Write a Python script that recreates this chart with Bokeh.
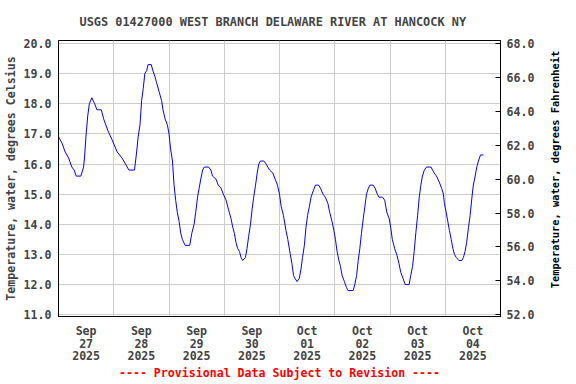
import math
from bokeh.plotting import figure
from bokeh.models import (LinearAxis, Range1d, FixedTicker, PrintfTickFormatter, Title, Grid, Label)
from bokeh.embed import file_html
from bokeh.resources import INLINE

# ---- data (hours since 2025-09-27 00:00, water temperature in deg C) ----
hours = [0, 1.5, 2.9, 4.4, 5.8, 6.8, 7.7, 9.7, 10.9, 11.3, 11.9, 12.7, 13.4, 14.5, 15.7, 16.7,
         18.6, 19.6, 21.5, 23.3, 25.5, 27.6, 29.1, 30.6, 33.0, 33.8, 34.6, 35.4, 36.1, 36.8, 37.5,
         38.3, 38.9, 40.3, 41.0, 41.9, 42.6, 43.7, 44.8, 45.4, 46.3, 47.3, 48.0, 48.7, 49.5, 50.2,
         50.9, 51.6, 52.4, 53.1, 53.8, 55.0, 57.0, 57.9, 58.9, 59.6, 60.4, 61.1, 61.8, 62.6, 63.3,
         65.2, 66.2, 66.9, 68.4, 69.4, 70.6, 71.6, 72.8, 73.8, 74.9, 75.7, 76.4, 77.1, 77.8, 78.6,
         79.3, 80.0, 81.2, 81.9, 82.6, 83.4, 84.1, 84.8, 85.6, 86.3, 87.0, 87.7, 89.2, 90.2, 91.7,
         93.1, 94.1, 95.1, 96.0, 96.7, 97.7, 98.8, 99.6, 100.7, 101.4, 102.1, 102.8, 103.6, 104.6,
         105.3, 106.0, 106.8, 107.5, 108.2, 109.0, 109.7, 110.6, 111.6, 113.0, 113.8, 114.9, 115.9,
         117.0, 117.8, 118.8, 119.6, 120.3, 121.0, 121.8, 122.5, 123.2, 124.2, 125.1, 125.8, 128.0,
         128.7, 129.5, 130.2, 130.9, 131.6, 132.4, 133.1, 133.8, 134.6, 135.3, 136.7, 137.5, 138.5,
         139.2, 140.7, 141.7, 142.6, 143.6, 144.3, 145.0, 146.0, 146.9, 147.9, 148.7, 149.7, 150.6,
         152.3, 153.0, 153.8, 154.5, 155.2, 156.0, 156.7, 157.4, 158.1, 158.9, 159.9, 161.8, 162.5,
         163.2, 164.2, 165.4, 166.4, 167.2, 167.6, 168.4, 169.1, 169.8, 170.6, 171.3, 172.0, 172.8,
         173.9, 175.2, 175.9, 176.6, 177.3, 178.1, 178.8, 179.6, 180.2, 181.0, 181.7, 182.4, 183.3,
         184.6]
temp_c = [16.9, 16.7, 16.4, 16.2, 15.9, 15.8, 15.6, 15.6, 15.9, 16.2, 16.9, 17.6, 18.0, 18.2, 18.0, 17.8,
          17.8, 17.5, 17.1, 16.8, 16.4, 16.2, 16.0, 15.8, 15.8, 16.3, 16.9, 17.3, 18.1, 18.5, 19.0,
          19.1, 19.3, 19.3, 19.1, 18.9, 18.7, 18.4, 18.1, 17.8, 17.5, 17.3, 17.0, 16.5, 16.1, 15.3,
          14.8, 14.4, 14.1, 13.7, 13.5, 13.3, 13.3, 13.7, 14.0, 14.4, 14.9, 15.2, 15.5, 15.8, 15.9,
          15.9, 15.8, 15.6, 15.5, 15.3, 15.2, 15.0, 14.8, 14.5, 14.2, 13.9, 13.7, 13.4, 13.2, 13.1,
          12.9, 12.8, 12.9, 13.2, 13.6, 14.0, 14.5, 14.9, 15.3, 15.7, 16.0, 16.1, 16.1, 16.0, 15.8,
          15.7, 15.5, 15.3, 15.0, 14.6, 14.3, 13.8, 13.5, 13.0, 12.7, 12.3, 12.2, 12.1, 12.2,
          12.5, 12.9, 13.3, 13.9, 14.3, 14.6, 14.9, 15.1, 15.3, 15.3, 15.2, 15.0, 14.9,
          14.7, 14.4, 14.1, 13.8, 13.5, 13.1, 12.8, 12.6, 12.3, 12.1, 11.9, 11.8, 11.8,
          12.0, 12.3, 12.8, 13.2, 13.7, 14.2, 14.6, 15.0, 15.2, 15.3, 15.3, 15.2, 15.0,
          14.9, 14.9, 14.8, 14.4, 14.2, 13.9, 13.5, 13.2, 13.0, 12.7, 12.4, 12.2, 12.0,
          12.0, 12.3, 12.6, 13.1, 13.7, 14.3, 14.9, 15.3, 15.6, 15.8, 15.9, 15.9, 15.8,
          15.7, 15.6, 15.4, 15.2, 15.0, 14.7, 14.4, 14.1, 13.8, 13.5, 13.2, 13.0, 12.9,
          12.8, 12.8, 12.9, 13.1, 13.4, 13.9, 14.3, 14.9, 15.3, 15.6, 15.9, 16.1, 16.3,
          16.3]

day_ticks = [12, 36, 60, 84, 108, 132, 156, 180]
month_labels = ["Sep", "Sep", "Sep", "Sep", "Oct", "Oct", "Oct", "Oct"]
daynum_labels = ["27", "28", "29", "30", "01", "02", "03", "04"]
year_labels = ["2025"] * 8
day_bounds = [24, 48, 72, 96, 120, 144, 168]
c_ticks = [11, 12, 13, 14, 15, 16, 17, 18, 19, 20]
f_ticks = [52, 54, 56, 58, 60, 62, 64, 66, 68]

title_text = "USGS 01427000 WEST BRANCH DELAWARE RIVER AT HANCOCK NY"
left_label = "Temperature, water, degrees Celsius"
right_label = "Temperature, water, degrees Fahrenheit"
note_text = "---- Provisional Data Subject to Revision ----"

FONT = "DejaVu Sans Mono"
FS = "11.6px"

FW, FH = 442, 276
c_lo, c_hi = 10.94, 20.10
def c_to_f(c):
    return 52 + (c - 11) * 16.0 / 9.0

p = figure(frame_width=FW, frame_height=FH, output_backend="svg", toolbar_location=None,
           x_range=Range1d(0, 192), y_range=Range1d(c_lo, c_hi),
           min_border_left=50, min_border_right=66, min_border_top=40, min_border_bottom=60,
           x_axis_type=None, y_axis_type=None)
p.extra_y_ranges = {"f": Range1d(c_to_f(c_lo), c_to_f(c_hi))}

p.line(hours, temp_c, line_color="#0000ff", line_width=1)

# title
p.title.text = title_text
p.title.text_font = FONT
p.title.text_font_size = "11.9px"
p.title.text_font_style = "bold"
p.title.align = "left"
p.title.offset = 21
p.title.standoff = 23

def style_text_axis(ax, standoff):
    ax.major_tick_line_color = None
    ax.minor_tick_line_color = None
    ax.major_tick_in = 0
    ax.major_tick_out = 0
    ax.major_label_text_font = FONT
    ax.major_label_text_font_size = FS
    ax.major_label_text_font_style = "bold"
    ax.major_label_standoff = standoff

# bottom axes: three stacked rows of labels
for labels, so, line in ((month_labels, 7, "black"), (daynum_labels, -2, None), (year_labels, 0, None)):
    xa = LinearAxis(ticker=FixedTicker(ticks=day_ticks),
                    major_label_overrides={t: l for t, l in zip(day_ticks, labels)})
    style_text_axis(xa, so)
    xa.axis_line_color = line
    p.add_layout(xa, "below")

# left axis
ya = LinearAxis(ticker=FixedTicker(ticks=c_ticks), formatter=PrintfTickFormatter(format="%.1f"),
                axis_label=left_label)
style_text_axis(ya, 7)
ya.axis_line_color = "black"
ya.axis_label_text_font = FONT
ya.axis_label_text_font_size = FS
ya.axis_label_text_font_style = "bold"
ya.axis_label_standoff = 3
p.add_layout(ya, "left")

# right axis (Fahrenheit)
ra = LinearAxis(y_range_name="f", ticker=FixedTicker(ticks=f_ticks),
                formatter=PrintfTickFormatter(format="%.1f"))
ra.major_tick_in = 5
ra.major_tick_out = 0
ra.major_tick_line_color = "black"
ra.minor_tick_line_color = None
ra.axis_line_color = "black"
ra.major_label_text_font = FONT
ra.major_label_text_font_size = FS
ra.major_label_text_font_style = "bold"
ra.major_label_standoff = 6
p.add_layout(ra, "right")

# right axis title, reading bottom-to-top like the left one
rlab = Label(x=17, y=FH / 2 + 9, x_units="screen", y_units="screen", text=right_label,
             angle=math.pi / 2, text_align="center", text_baseline="middle",
             text_font=FONT, text_font_size="10.4px", text_font_style="bold", text_color="black")
p.add_layout(rlab, "right")

# grids at day boundaries and whole degrees
p.add_layout(Grid(dimension=0, ticker=FixedTicker(ticks=day_bounds), grid_line_color="#cccccc"), "center")
p.add_layout(Grid(dimension=1, ticker=FixedTicker(ticks=c_ticks), grid_line_color="#cccccc"), "center")

p.outline_line_color = "black"
p.outline_line_width = 1
p.background_fill_color = "white"
p.border_fill_color = "white"

note = Title(text=note_text, align="center", text_color="#ff0000", text_font=FONT,
             text_font_size=FS, text_font_style="bold", standoff=2)
p.add_layout(note, "below")

open("out.html", "w").write(file_html(p, INLINE))
